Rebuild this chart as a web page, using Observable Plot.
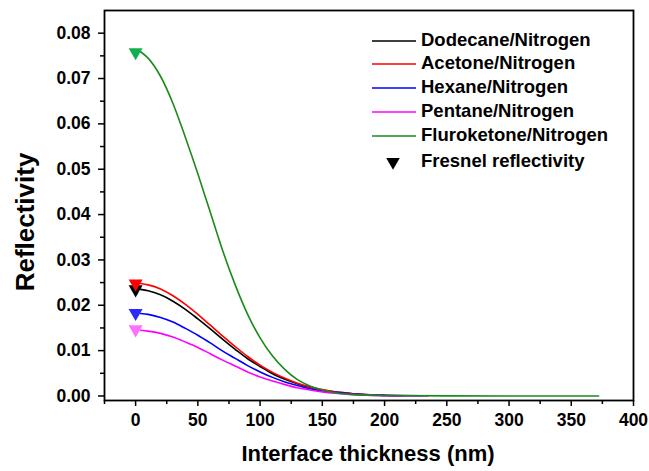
<!DOCTYPE html>
<html>
<head>
<meta charset="utf-8">
<script src="https://cdn.jsdelivr.net/npm/d3@7"></script>
<script src="https://cdn.jsdelivr.net/npm/@observablehq/plot@0.6"></script>
<style>
  html, body { margin: 0; padding: 0; background: #fff; }
  #chart { width: 649px; height: 471px; }
  svg text { font-family: "Liberation Sans", Arial, sans-serif; font-weight: bold; }
</style>
</head>
<body>
<div id="chart"></div>
<script>
// ---- data ----
const seriesNames = ["Dodecane/Nitrogen", "Acetone/Nitrogen", "Hexane/Nitrogen", "Pentane/Nitrogen", "Fluroketone/Nitrogen"];
const lineColors = ["#000000", "#ff0000", "#0000ff", "#ff00ff", "#1a8a1a"];
const markerColors = ["#000000", "#ff0000", "#2a2aff", "#ff70ff", "#10b050"];

const xGrid = [4, 10, 20, 30, 40, 50, 60, 70, 80, 90, 100, 110, 120, 130, 140, 150, 160, 175, 200];
const xDodecane = xGrid;
const dodecane = [0.0235, 0.0232, 0.0223, 0.0209, 0.0191, 0.0170, 0.0148, 0.0125, 0.0103, 0.0082, 0.0065, 0.0049, 0.0037, 0.0027, 0.0019, 0.0013, 0.0009, 0.0005, 0.00013];
const xAcetone = [...xGrid, 215];
const acetone = [0.0248, 0.0245, 0.0236, 0.0221, 0.0202, 0.0180, 0.0156, 0.0132, 0.0109, 0.0087, 0.0068, 0.0052, 0.0039, 0.0028, 0.0020, 0.0014, 0.0009, 0.0005, 0.00014, 0.00005];
const xHexane = [...xGrid, 230];
const hexane = [0.0182, 0.0180, 0.0173, 0.0163, 0.0149, 0.0134, 0.0117, 0.0099, 0.0083, 0.0067, 0.0053, 0.0041, 0.0031, 0.0023, 0.0016, 0.0011, 0.0008, 0.0004, 0.00013, 0.00004];
const xPentane = [...xGrid, 235];
const pentane = [0.0145, 0.0143, 0.0138, 0.0130, 0.0119, 0.0107, 0.0093, 0.0079, 0.0066, 0.0053, 0.0042, 0.0033, 0.0025, 0.0018, 0.0013, 0.0009, 0.0006, 0.0003, 0.0001, 0.00002];
const xFluroketone = [...xGrid, 250, 300, 350, 372];
const fluroketone = [0.0759, 0.0745, 0.0705, 0.0645, 0.0570, 0.0490, 0.0405, 0.0320, 0.0245, 0.0180, 0.0128, 0.0088, 0.0058, 0.0036, 0.0022, 0.0013, 0.0007, 0.0003, 0.0001, 0.00002, 0, 0, 0];

const fresnelX = [0, 0, 0, 0, 0];
const fresnelR = [0.0235, 0.0248, 0.0183, 0.0147, 0.0758];

const xTicks = [0, 50, 100, 150, 200, 250, 300, 350, 400];
const xMinorTicks = [-25, 25, 75, 125, 175, 225, 275, 325, 375];
const yTicks = [0, 0.01, 0.02, 0.03, 0.04, 0.05, 0.06, 0.07, 0.08];
const yMinorTicks = [0.005, 0.015, 0.025, 0.035, 0.045, 0.055, 0.065, 0.075];

// ---- build table ----
const allX = [xDodecane, xAcetone, xHexane, xPentane, xFluroketone];
const allY = [dodecane, acetone, hexane, pentane, fluroketone];
const rows = [];
allY.forEach((ys, i) => ys.forEach((v, j) => rows.push({series: seriesNames[i], x: allX[i][j], y: v})));
const fresnel = fresnelR.map((v, i) => ({series: seriesNames[i], x: fresnelX[i], y: v}));

const plot = Plot.plot({
  width: 649,
  height: 471,
  marginLeft: 104,
  marginRight: 16,
  marginTop: 10,
  marginBottom: 71,
  style: {fontFamily: "Liberation Sans, Arial, sans-serif", fontWeight: "bold", background: "white"},
  x: {domain: [-25, 400]},
  y: {domain: [-0.001, 0.085]},
  color: {domain: seriesNames, range: lineColors},
  marks: [
    Plot.axisX({ticks: xMinorTicks, tickSize: 4, text: null, label: null, strokeWidth: 1.5}),
    Plot.axisX({ticks: xTicks, tickSize: 6, tickPadding: 7, fontSize: 17.5, fontWeight: "bold", fill: "black", strokeWidth: 1.5, label: null, tickFormat: d => String(d)}),
    Plot.axisY({ticks: yMinorTicks, tickSize: 4, text: null, label: null, strokeWidth: 1.5}),
    Plot.axisY({ticks: yTicks, tickSize: 6, tickPadding: 8, fontSize: 17.5, fontWeight: "bold", fill: "black", strokeWidth: 1.5, label: null, tickFormat: d3.format(".2f")}),
    Plot.frame({stroke: "black", strokeWidth: 1.8}),
    Plot.line(rows, {x: "x", y: "y", stroke: "series", z: "series", strokeWidth: 1.6, curve: "monotone-x"}),
    Plot.dot(fresnel, {x: "x", y: "y", symbol: "triangle", rotate: 180, r: 5.2, fill: (d, i) => markerColors[i], stroke: "none"})
  ]
});

const svg = d3.select(plot);
// axis titles
svg.append("text")
  .attr("transform", "translate(27,222) rotate(-90)")
  .attr("text-anchor", "middle").attr("dominant-baseline", "middle")
  .style("font-size", "26px").style("font-weight", "bold").attr("fill", "black")
  .text("Reflectivity");
svg.append("text")
  .attr("x", 368).attr("y", 455)
  .attr("text-anchor", "middle").attr("dominant-baseline", "middle")
  .style("font-size", "22px").style("font-weight", "bold").attr("fill", "black")
  .text("Interface thickness (nm)");

// legend
const lg = svg.append("g").attr("text-anchor", "start");
const rowY = [41, 64, 88, 112, 136];
seriesNames.forEach((name, i) => {
  lg.append("line").attr("x1", 372).attr("x2", 416).attr("y1", rowY[i]).attr("y2", rowY[i])
    .attr("stroke", lineColors[i]).attr("stroke-width", 1.6);
  lg.append("text").attr("x", 421).attr("y", rowY[i]).attr("dominant-baseline", "middle")
    .attr("text-anchor", "start")
    .style("font-size", "18.5px").style("font-weight", "bold").attr("fill", "black").text(name);
});
lg.append("path").attr("d", d3.symbol(d3.symbolTriangle, 80)()).attr("transform", "translate(393,162) rotate(180)").attr("fill", "black");
lg.append("text").attr("x", 421).attr("y", 162).attr("dominant-baseline", "middle")
  .attr("text-anchor", "start")
  .style("font-size", "18.5px").style("font-weight", "bold").attr("fill", "black").text("Fresnel reflectivity");

document.getElementById("chart").appendChild(plot);
</script>
</body>
</html>
